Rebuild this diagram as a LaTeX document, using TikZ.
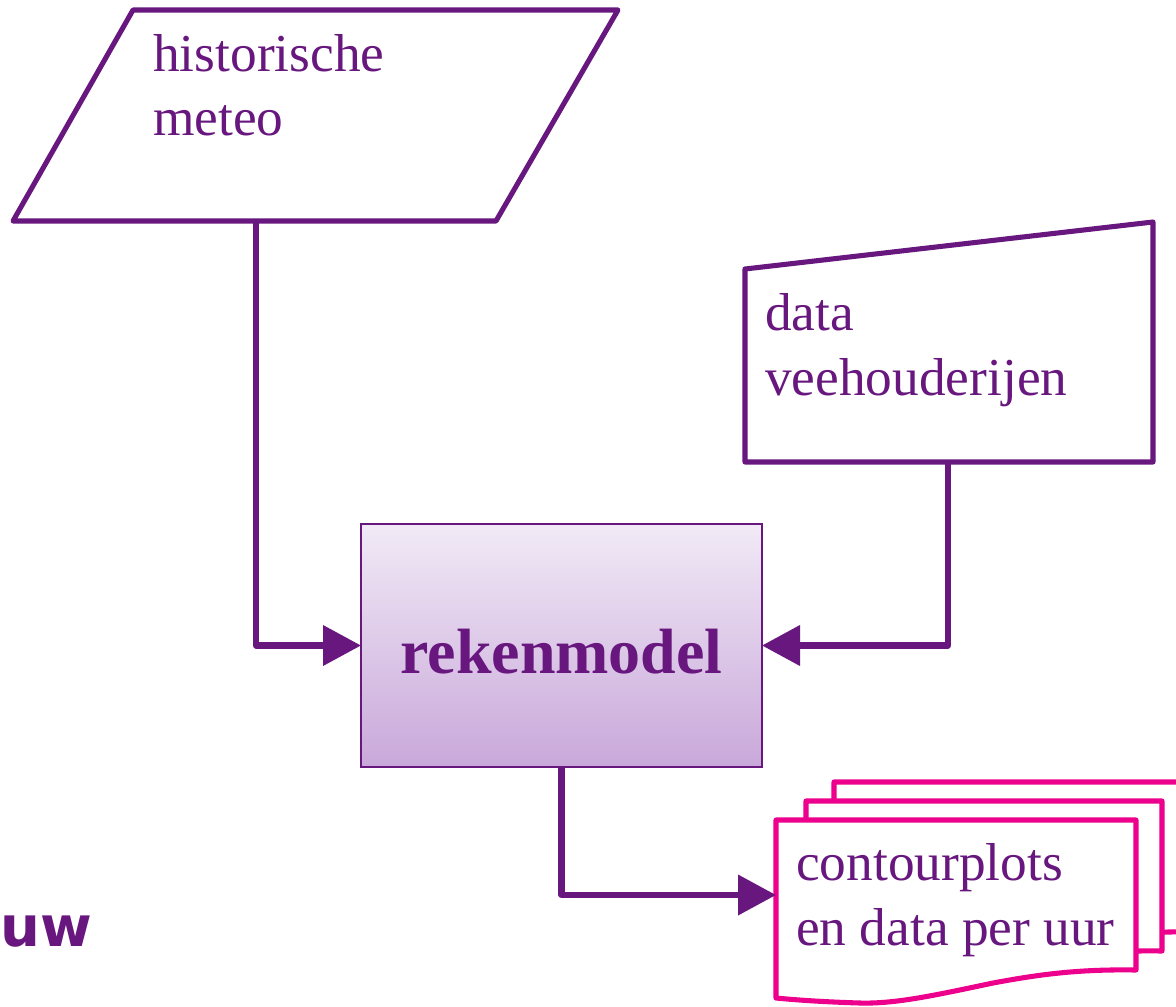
\documentclass[tikz,border=0pt]{standalone}
\usepackage{fontspec}
\setmainfont{Liberation Serif}
\newfontfamily\uwfont{DejaVu Sans}
\usetikzlibrary{arrows.meta}
\definecolor{mypurple}{HTML}{68177E}
\definecolor{mypink}{HTML}{EC008C}
\definecolor{boxtop}{HTML}{F1EAF6}
\definecolor{boxbot}{HTML}{C9A8DA}
\newcommand\docpath[1]{(0,0) -- (#1,0) -- (#1,150) .. controls (300,149) and (260,155) .. (217,163) .. controls (160,175) and (120,184) .. (84,183) .. controls (50,182) and (20,180) .. (0,178) -- cycle}
\tikzset{
  outl/.style={draw=mypurple, line width=3.8pt, line join=round, fill=white},
  docs/.style={draw=mypink, line width=3.8pt, line join=round, fill=white},
  conn/.style={draw=mypurple, line width=4.6pt, line join=round, -{Triangle[length=28.5pt,width=29.5pt]}},
  txt/.style={anchor=base west, inner sep=0pt, text=mypurple, font=\fontsize{40}{48}\selectfont},
  rekbox/.style={draw=mypurple, line width=1.5pt, outer sep=0pt, inner sep=0pt,
    top color=boxtop, bottom color=boxbot, minimum width=300.75pt, minimum height=182.25pt}
}
\begin{document}
\begin{tikzpicture}[x=0.75pt,y=-0.75pt]
\clip (0,0) rectangle (1176,1006);
\fill[white] (0,0) rectangle (1176,1006);
% historische meteo (parallelogram)
\draw[outl] (133,10) -- (618,10) -- (496,221) -- (13,221) -- cycle;
\coordinate (histout) at (256,221);
\node[txt] (hist1) at (153,71) {historische};
\node[txt] (hist2) at (153,135) {meteo};
% data veehouderijen (manual input)
\draw[outl] (745,269) -- (1153,222) -- (1153,462) -- (745,462) -- cycle;
\coordinate (vhout) at (948,462);
\node[txt] (vh1) at (765,330) {data};
\node[txt] (vh2) at (765,395) {veehouderijen};
% rekenmodel
\node[rekbox] (rek) at (561.5,645.5) {};
\node[anchor=base, inner sep=0pt, text=mypurple, font=\fontsize{48}{56}\selectfont\bfseries] (reklabel) at (561.5,673) {rekenmodel};
% multi document
\begin{scope}[shift={(834,782)}]
  \draw[docs] \docpath{360};
\end{scope}
\begin{scope}[shift={(806,801)}]
  \draw[docs] \docpath{356};
\end{scope}
\begin{scope}[shift={(776,820)}]
  \draw[docs] \docpath{360};
\end{scope}
\coordinate (docin) at (776,895);
\node[txt] (doc1) at (796,880) {contourplots};
\node[txt] (doc2) at (796,945) {en data per uur};
% uw
\node[anchor=base west, inner sep=0pt, text=mypurple, font=\uwfont\bfseries\fontsize{42}{48}\selectfont] (uw) at (0,946) {uw};
% connectors
\draw[conn] (histout) |- (rek.west);
\draw[conn] (vhout) |- (rek.east);
\draw[conn] (rek.south) |- (docin);
\end{tikzpicture}
\end{document}
